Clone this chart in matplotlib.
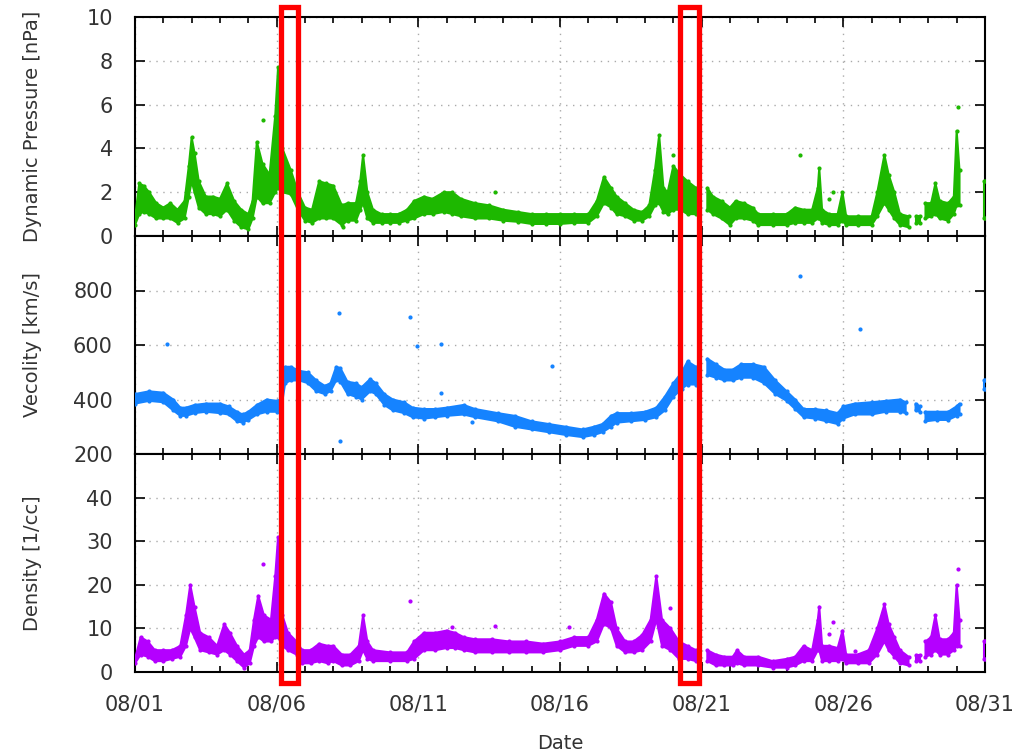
import numpy as np
import matplotlib
matplotlib.use("Agg")
import matplotlib.pyplot as plt
import matplotlib.transforms as mtransforms
from matplotlib.patches import Rectangle
from matplotlib.ticker import MultipleLocator

nan = np.nan

# days since 08/01 00:00, lower / upper edge of the scatter band
p_t = [0.0, 0.15, 0.3, 0.5, 0.75, 1.0, 1.25, 1.5, 1.75, 1.9, 2.0, 2.1, 2.25, 2.5, 2.75, 3.0, 3.25, 3.5, 3.75,
       4.0, 4.15, 4.3, 4.5, 4.75, 4.95, 5.05, 5.2, 5.5, 5.75, 6.0, 6.25, 6.5, 6.75, 7.0, 7.3, 7.5, 7.8, 7.95,
       8.05, 8.2, 8.4, 8.7, 9.0, 9.3, 9.6, 9.85, 10.2, 10.5, 10.9, 11.2, 11.5, 12.0, 12.5, 13.0, 13.5, 14.0,
       14.5, 15.0, 15.5, 16.0, 16.3, 16.55, 16.8, 17.0, 17.3, 17.6, 17.9, 18.15, 18.35, 18.5, 18.65, 18.8,
       19.0, 19.25, 19.5, 19.8, 20.0, 20.2, 20.4, 20.7, 21.0, 21.2, 21.5, 21.8, 22.0, 22.5, 23.0, 23.3, 23.6,
       23.9, 24.1, 24.15, 24.25, 24.5, 24.8, 24.97, 25.1, 25.5, 26.0, 26.2, 26.45, 26.6, 26.8, 27.0, 27.3,
       27.45, 27.55, 27.7, 27.8, 27.9, 28.1, 28.25, 28.4, 28.7, 28.9, 29.0, 29.1, 29.5, 29.97, 30.0]
p_lo = [0.5, 1.0, 1.1, 1.0, 0.8, 0.8, 0.8, 0.6, 0.8, 1.8, 2.5, 2.0, 1.3, 1.0, 1.0, 0.9, 1.2, 0.7, 0.4,
        0.3, 0.8, 1.8, 1.5, 1.5, 2.0, 2.2, 2.0, 1.9, 1.2, 0.7, 0.6, 0.8, 0.8, 0.8, 0.5, 0.7, 0.7, 1.2,
        1.5, 0.8, 0.6, 0.6, 0.6, 0.6, 0.7, 0.8, 1.0, 1.0, 1.1, 1.0, 0.9, 0.8, 0.8, 0.7, 0.65, 0.55,
        0.55, 0.55, 0.6, 0.6, 0.9, 1.5, 1.3, 1.0, 0.9, 0.7, 0.7, 0.9, 1.4, 1.5, 1.1, 1.0,
        1.2, 1.2, 1.0, 1.0, nan, 1.2, 1.0, 0.8, 0.5, 0.8, 0.8, 0.7, 0.5, 0.5, 0.5, 0.6, 0.6,
        0.6, 0.8, 0.8, 0.6, 0.5, 0.5, 0.7, 0.5, 0.5, 0.5, 0.9, 1.5, 1.2, 0.8, 0.5, 0.4,
        nan, 0.6, 0.6, nan, 0.8, 0.9, 1.0, 0.8, 0.7, 1.0, 1.4, 1.4, nan, 0.8, 0.8]
p_hi = [0.8, 2.4, 2.3, 2.0, 1.5, 1.3, 1.5, 1.2, 1.6, 3.2, 4.5, 3.8, 2.5, 1.8, 1.8, 1.7, 2.4, 1.6, 1.2,
        1.0, 1.6, 4.3, 3.3, 2.8, 5.5, 7.7, 4.0, 3.0, 2.0, 1.3, 1.2, 2.5, 2.4, 2.3, 1.4, 1.5, 1.5, 2.5,
        3.7, 2.0, 1.2, 1.0, 1.0, 1.0, 1.2, 1.6, 1.8, 1.7, 2.0, 2.0, 1.7, 1.5, 1.4, 1.2, 1.1, 1.0,
        1.0, 1.0, 1.0, 1.0, 1.6, 2.7, 2.2, 1.8, 1.5, 1.2, 1.1, 1.4, 3.0, 4.6, 2.2, 2.0,
        3.2, 2.8, 2.5, 2.2, nan, 2.2, 1.8, 1.6, 1.3, 1.6, 1.5, 1.3, 1.0, 1.0, 1.0, 1.3, 1.2,
        1.2, 2.2, 3.1, 1.2, 1.0, 1.0, 2.0, 0.9, 0.9, 0.9, 2.0, 3.7, 2.8, 2.0, 1.0, 0.9,
        nan, 0.9, 0.9, nan, 1.5, 1.5, 2.4, 1.6, 1.5, 1.8, 4.8, 3.0, nan, 2.5, 2.5]
p_out_t = [4.5, 7.35, 12.7, 19.0, 23.47, 24.5, 24.65, 29.05]
p_out = [5.3, 0.4, 2.0, 3.7, 3.7, 1.7, 2.0, 5.9]

v_t = [0.0, 0.5, 1.0, 1.35, 1.6, 1.8, 2.1, 2.5, 3.0, 3.3, 3.6, 3.8, 4.0, 4.3, 4.65, 5.0, 5.15, 5.3, 5.5,
       5.8, 6.1, 6.4, 6.7, 6.9, 7.1, 7.25, 7.5, 7.8, 8.0, 8.3, 8.5, 8.8, 9.1, 9.5, 9.8, 10.2, 10.6, 11.0,
       11.6, 12.0, 12.8, 13.4, 14.0, 14.6, 15.2, 15.8, 16.2, 16.5, 16.8, 17.0, 17.5, 18.0, 18.4, 18.7,
       19.0, 19.3, 19.5, 19.8, 20.0, 20.2, 20.5, 20.8, 21.1, 21.4, 21.8, 22.2, 22.6, 23.0, 23.3, 23.6,
       24.0, 24.4, 24.8, 25.0, 25.4, 26.0, 26.5, 27.0, 27.2, 27.45, 27.55, 27.7, 27.8, 27.9, 28.3, 28.7,
       29.0, 29.1, 29.5, 29.97, 30.0]
v_lo = [385, 395, 390, 360, 340, 340, 350, 355, 350, 345, 320, 315, 325, 345, 355, 355, 360, 460, 470,
        470, 460, 430, 420, 430, 470, 465, 420, 410, 400, 430, 420, 380, 360, 350, 335, 330, 335, 340,
        345, 335, 320, 300, 290, 280, 270, 262, 270, 280, 300, 315, 320, 325, 335, 360,
        410, 440, 455, 455, nan, 490, 480, 470, 470, 480, 480, 460, 420, 395, 365, 335,
        330, 320, 310, 330, 345, 345, 355, 355, 350, nan, 360, 355, nan, 320, 325, 325,
        340, 345, nan, 440, 440]
v_hi = [420, 430, 425, 400, 370, 370, 380, 385, 385, 375, 355, 345, 355, 380, 400, 395, 400, 520, 520,
        505, 500, 470, 450, 460, 520, 515, 465, 460, 445, 475, 460, 420, 400, 390, 370, 365, 365, 370,
        380, 365, 350, 340, 320, 310, 300, 290, 300, 310, 340, 350, 350, 355, 370, 410,
        460, 500, 540, 520, nan, 550, 530, 510, 510, 530, 530, 520, 470, 430, 400, 365,
        365, 360, 350, 375, 385, 390, 395, 400, 390, nan, 385, 375, nan, 355, 355, 355,
        375, 385, nan, 470, 470]
v_out_t = [1.13, 7.2, 7.25, 9.7, 9.95, 10.8, 10.8, 11.9, 14.7, 23.47, 25.6]
v_out = [605, 717, 249, 702, 595, 605, 424, 318, 522, 852, 658]

n_t = [0.0, 0.2, 0.45, 0.7, 1.0, 1.3, 1.6, 1.8, 1.95, 2.1, 2.3, 2.6, 2.9, 3.15, 3.35, 3.6, 3.85, 4.05, 4.2,
       4.35, 4.55, 4.8, 4.95, 5.05, 5.2, 5.4, 5.7, 5.9, 6.2, 6.5, 6.8, 7.0, 7.3, 7.6, 7.9, 8.05, 8.2, 8.4,
       9.0, 9.6, 9.85, 10.2, 10.6, 11.0, 11.3, 11.6, 12.0, 12.6, 13.2, 13.8, 14.4, 15.0, 15.5, 16.0, 16.3,
       16.55, 16.8, 17.0, 17.3, 17.6, 17.9, 18.2, 18.4, 18.6, 18.9, 19.2, 19.5, 19.8, 20.0, 20.2, 20.5,
       20.8, 21.1, 21.25, 21.5, 22.0, 22.5, 23.0, 23.3, 23.6, 23.9, 24.1, 24.15, 24.25, 24.5, 24.8, 24.97,
       25.1, 25.5, 25.9, 26.2, 26.45, 26.6, 26.8, 27.0, 27.3, 27.45, 27.55, 27.7, 27.8, 27.9, 28.1, 28.25,
       28.4, 28.7, 28.9, 29.0, 29.1, 29.5, 29.97, 30.0]
n_lo = [2, 4, 3.5, 2.5, 2.5, 3, 3.5, 6, 10, 8, 5, 4.5, 4, 5, 4, 2.5, 1, 2, 6,
        8, 7, 7, 8, 8, 6, 5, 4, 2, 2, 2.5, 2, 2.5, 1.5, 1.5, 2.5, 5, 3, 2.5,
        2.5, 2.5, 3, 5, 5, 5.5, 5.5, 5, 4.5, 4.5, 4.5, 4.5, 4.5, 5, 6, 6, 7,
        11, 10, 6, 4.5, 4.5, 5, 7, 12, 6, 5, 3, 3, 2.5, nan, 2.5, 1.5,
        1.5, 1.5, 2, 1.5, 1.5, 1, 1, 1.5, 2.5, 2.5, 5, 5, 2.5, 2.5, 2.5, 3,
        2, 2, 2, 4, 7, 5, 3.5, 2, 1.5, nan, 2.5, 2.5, nan, 3.5, 4, 5,
        4, 4, 5, 6, 6, nan, 3, 3]
n_hi = [3, 8, 7, 5, 5, 5, 6, 13, 20, 15, 9, 8, 6, 11, 9, 6, 4, 5, 12,
        17.5, 13, 12, 22, 31, 13, 9, 7, 5, 5, 6.5, 6, 6, 4, 4, 6, 13, 7, 5,
        4.5, 4.5, 7, 9, 9, 9.5, 9, 8, 7.5, 7.5, 7, 7, 6.5, 7, 8, 8, 12,
        18, 16, 10, 7, 7, 8.5, 12, 22, 12, 10, 7, 6, 5, nan, 5, 4,
        3.5, 3.5, 5, 3.5, 3.5, 2.5, 3, 3.5, 6, 5, 12, 15, 6, 6, 5.5, 9.5,
        4, 4, 5, 10, 15.5, 11, 8, 5, 3.5, nan, 4, 4, nan, 7, 8, 13,
        7.5, 7.5, 9, 20, 12, nan, 7, 7]
n_out_t = [4.5, 9.7, 11.2, 12.7, 15.3, 18.9, 24.5, 24.65, 25.4, 29.05]
n_out = [24.7, 16.2, 10.4, 10.6, 10.4, 14.6, 8.8, 11.4, 4.8, 23.7]

date_ticks = [0, 5, 10, 15, 20, 25, 30]
date_labels = ["08/01", "08/06", "08/11", "08/16", "08/21", "08/26", "08/31"]

# highlighted intervals (days)
boxes = [(5.15, 5.75), (19.24, 19.91)]

plt.rcParams["font.family"] = ["DejaVu Sans"]
txt = "#333333"

fig = plt.figure(figsize=(10.23, 7.52), dpi=100)
left, width = 135 / 1023, 850 / 1023
ax1 = fig.add_axes([left, 1 - 236 / 752, width, 219 / 752])
ax2 = fig.add_axes([left, 1 - 454 / 752, width, 218 / 752])
ax3 = fig.add_axes([left, 1 - 672 / 752, width, 218 / 752])

panels = [
    (ax1, p_t, p_lo, p_hi, p_out_t, p_out, "#1db800", (0, 10), [0, 2, 4, 6, 8, 10], "Dynamic Pressure [nPa]"),
    (ax2, v_t, v_lo, v_hi, v_out_t, v_out, "#1583ff", (200, 1000), [200, 400, 600, 800], "Vecolity [km/s]"),
    (ax3, n_t, n_lo, n_hi, n_out_t, n_out, "#b400ff", (0, 50), [0, 10, 20, 30, 40], "Density [1/cc]"),
]

for ax, t, lo, hi, ot, ov, col, ylim, yt, lab in panels:
    t = np.array(t, float)
    lo = np.array(lo, float)
    hi = np.array(hi, float)
    ax.fill_between(t, lo, hi, color=col, lw=1.5, edgecolor=col, zorder=3)
    ax.plot(t, lo, ".", color=col, ms=4, zorder=3)
    ax.plot(t, hi, ".", color=col, ms=4, zorder=3)
    ax.plot(ot, ov, ".", color=col, ms=4, zorder=3)
    ax.set_xlim(0, 30)
    ax.set_ylim(*ylim)
    ax.set_yticks(yt)
    ax.set_xticks(date_ticks)
    ax.xaxis.set_minor_locator(MultipleLocator(1))
    ax.grid(True, which="major", linestyle=(0, (1, 4)), color="#aaaaaa", lw=1.0)
    ax.tick_params(which="major", direction="in", length=7, width=1.2, top=True, right=True,
                   labelsize=15, labelcolor=txt, pad=16)
    ax.tick_params(which="minor", direction="in", length=4, width=1.2, top=True, bottom=True)
    for s in ax.spines.values():
        s.set_linewidth(1.5)
    ax.set_ylabel(lab, fontsize=14, color=txt)
    ax.yaxis.set_label_coords(-0.109, 0.5)
    if ax is not ax3:
        ax.tick_params(labelbottom=False)

ax3.set_xticklabels(date_labels)
ax3.set_xlabel("Date", fontsize=14, color=txt, labelpad=14)

trans = mtransforms.blended_transform_factory(ax3.transData, fig.transFigure)
for x0, x1 in boxes:
    fig.patches.append(Rectangle((x0, 1 - 683 / 752), x1 - x0, 676 / 752, transform=trans,
                                 fill=False, edgecolor="#ff0000", lw=3.8, zorder=10))

fig.savefig("out.png", dpi=100)
